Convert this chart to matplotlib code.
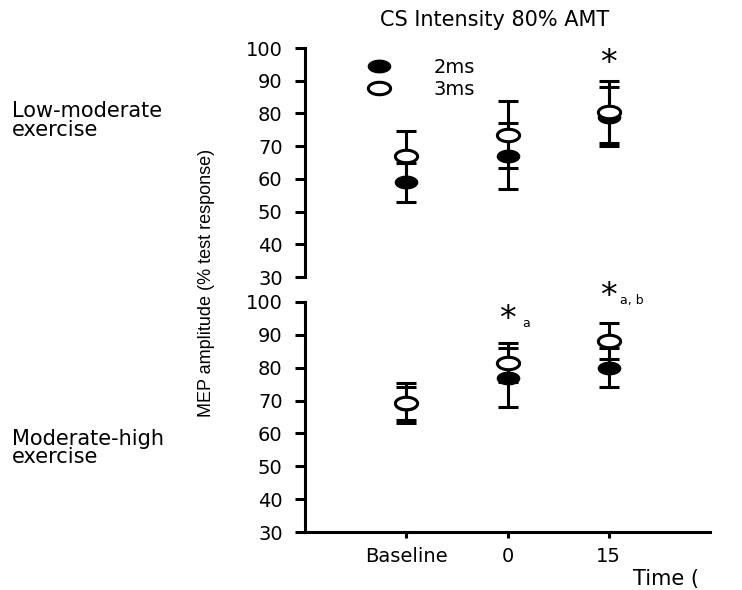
import numpy as np
import matplotlib.pyplot as plt
from matplotlib.path import Path
from matplotlib.lines import Line2D
from matplotlib import font_manager as fm

plt.rcParams['font.family'] = ['DejaVu Sans']

# Dati
tempi = ['Baseline', '0', '15']
x_pos = [1, 2, 3]

low_2ms = [59, 67, 79]
low_2ms_err = [6, 10, 9]
low_3ms = [67, 73.5, 80.5]
low_3ms_err = [7.5, 10.3, 9.5]

high_2ms = [69, 77, 80]
high_2ms_err = [5, 9, 6]
high_3ms = [69.3, 81.5, 88]
high_3ms_err = [6, 6, 5.5]

# Marker ellittico (la figura originale e' stirata in orizzontale)
t = np.linspace(0, 2 * np.pi, 64)
ellisse = Path(np.column_stack([np.cos(t), 0.56 * np.sin(t)]), closed=True)

# Font stretto per l'etichetta verticale, se disponibile
nomi_font = {f.name for f in fm.fontManager.ttflist}
if 'Liberation Sans Narrow' in nomi_font:
    font_ylab, size_ylab = 'Liberation Sans Narrow', 16
else:
    font_ylab, size_ylab = 'Liberation Sans', 13

lw = 2.2
fig = plt.figure(figsize=(7.42, 5.90), dpi=100)
ax1 = fig.add_axes([0.411, 0.5305, 0.546, 0.388])
ax2 = fig.add_axes([0.411, 0.0983, 0.546, 0.390])


def pannello(ax, y2, e2, y3, e3):
    ax.errorbar(x_pos, y2, yerr=e2, fmt='none', ecolor='black', elinewidth=lw,
                capsize=7.5, capthick=lw, zorder=2)
    ax.errorbar(x_pos, y3, yerr=e3, fmt='none', ecolor='black', elinewidth=lw,
                capsize=7.5, capthick=lw, zorder=2)
    ax.plot(x_pos, y2, ls='none', marker=ellisse, ms=16, mfc='black', mec='black', zorder=3)
    ax.plot(x_pos, y3, ls='none', marker=ellisse, ms=16, mfc='white', mec='black',
            mew=lw, zorder=4)
    ax.set_xlim(0, 4)
    ax.set_ylim(30, 100)
    ax.set_yticks(np.arange(30, 101, 10))
    for s in ['top', 'right']:
        ax.spines[s].set_visible(False)
    ax.spines['left'].set_linewidth(lw)
    ax.spines['bottom'].set_linewidth(lw)
    ax.tick_params(axis='y', length=7, width=lw, labelsize=14, pad=9)
    ax.tick_params(axis='x', length=4, width=lw, labelsize=14, pad=7)


pannello(ax1, low_2ms, low_2ms_err, low_3ms, low_3ms_err)
pannello(ax2, high_2ms, high_2ms_err, high_3ms, high_3ms_err)

ax1.spines['bottom'].set_visible(False)
ax1.set_xticks([])
ax2.set_xticks(x_pos)
ax2.set_xticklabels(tempi)

# Legenda
h2 = Line2D([], [], ls='none', marker=ellisse, ms=16, mfc='black', mec='black')
h3 = Line2D([], [], ls='none', marker=ellisse, ms=16, mfc='white', mec='black', mew=lw)
ax1.legend([h2, h3], ['2ms', '3ms'], frameon=False, loc='upper left',
           bbox_to_anchor=(0.155, 0.957), borderpad=0, borderaxespad=0,
           handlelength=1.2, handletextpad=2.2, labelspacing=0.15, fontsize=14)

# Asterischi
ax1.text(3, 95.4, '*', fontsize=24, ha='center', va='center')
ax2.text(2, 94.6, '*', fontsize=24, ha='center', va='center')
ax2.text(2.15, 93.5, 'a', fontsize=9, ha='left', va='center')
ax2.text(3, 101.5, '*', fontsize=24, ha='center', va='center')
ax2.text(3.11, 100.5, 'a, b', fontsize=9, ha='left', va='center')

# Testi
fig.text(495 / 742, 1 - 20 / 590, 'CS Intensity 80% AMT', fontsize=15,
         ha='center', va='center')
fig.text(12 / 742, 1 - 101 / 590, 'Low-moderate\nexercise', fontsize=15,
         ha='left', va='top', linespacing=0.92)
fig.text(12 / 742, 1 - 429 / 590, 'Moderate-high\nexercise', fontsize=15,
         ha='left', va='top', linespacing=0.88)
fig.text(207 / 742, 1 - 283 / 590, 'MEP amplitude (% test response)', fontsize=size_ylab,
         rotation=90, ha='center', va='center', family=[font_ylab, 'DejaVu Sans'])
fig.text(633 / 742, 1 - 569 / 590, 'Time (', fontsize=15, ha='left', va='top')

fig.savefig('out.png', dpi=100)
